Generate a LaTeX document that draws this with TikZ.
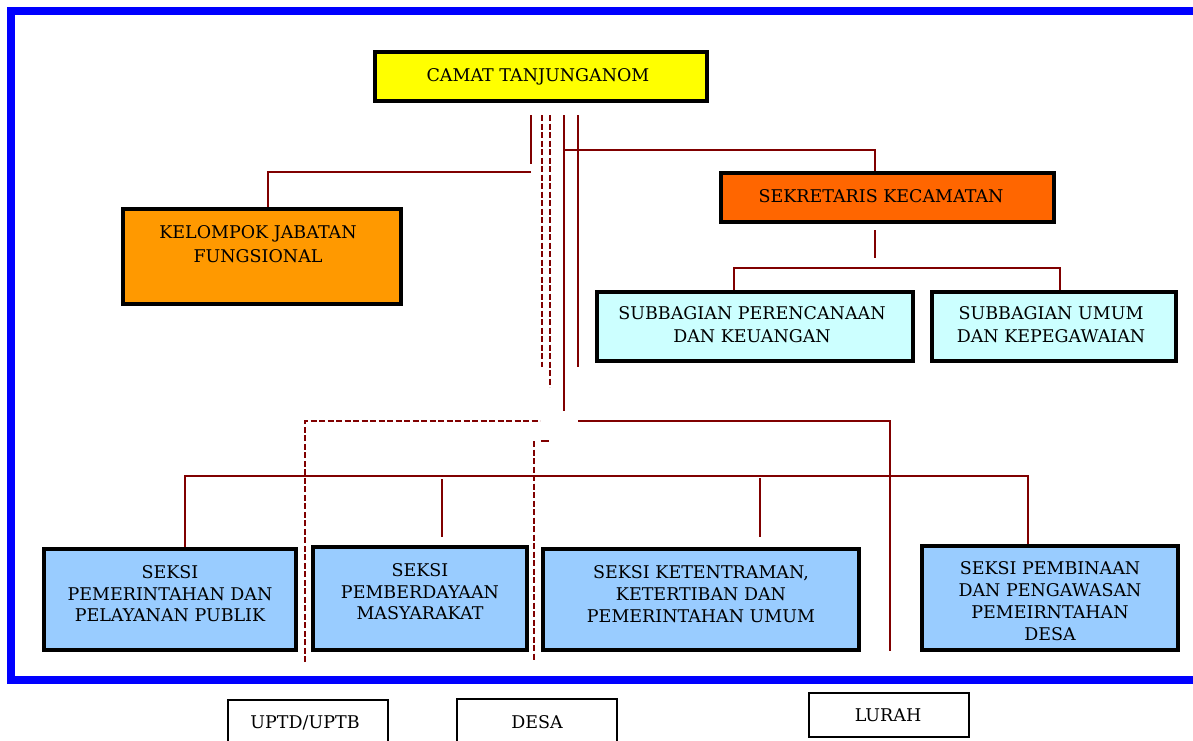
\documentclass[tikz,border=0pt]{standalone}
\usepackage{fontspec}
\setmainfont{DejaVu Serif}
\definecolor{conred}{HTML}{800000}
\definecolor{cyellow}{HTML}{FFFF00}
\definecolor{corange}{HTML}{FF9900}
\definecolor{cdorange}{HTML}{FF6600}
\definecolor{ccyan}{HTML}{CCFFFF}
\definecolor{cblue}{HTML}{99CCFF}
\definecolor{framebl}{HTML}{0000FF}
\begin{document}
\begin{tikzpicture}[x=1pt,y=-1pt,
  box/.style={draw=black, line width=4pt, inner sep=0pt},
  txt/.style={anchor=north, inner sep=0pt, align=center, font=\fontsize{17.5}{22}\selectfont},
  con/.style={draw=conred, line width=2pt},
  dcon/.style={draw=conred, line width=2pt, dash pattern=on 6pt off 2.5pt},
  smallbox/.style={draw=black, line width=2pt, fill=white, inner sep=0pt}]
\useasboundingbox (0,0) rectangle (1193,740);
% outer blue frame
\draw[framebl, line width=8pt] (11,11) rectangle (1215,680);

% boxes
\node[box, fill=cyellow, minimum width=332pt, minimum height=49pt] (camat) at (541,76.5) {};
\node[box, fill=corange, minimum width=278pt, minimum height=95pt] (kjf) at (262,256.5) {};
\node[box, fill=cdorange, minimum width=333pt, minimum height=49pt] (sek) at (887.5,197.5) {};
\node[box, fill=ccyan, minimum width=316pt, minimum height=69pt] (sub1) at (755,326.5) {};
\node[box, fill=ccyan, minimum width=244pt, minimum height=69pt] (sub2) at (1054,326.5) {};
\node[box, fill=cblue, minimum width=252pt, minimum height=101pt] (sA) at (170,599.5) {};
\node[box, fill=cblue, minimum width=214pt, minimum height=103pt] (sB) at (420,598.5) {};
\node[box, fill=cblue, minimum width=316pt, minimum height=101pt] (sC) at (701,599.5) {};
\node[box, fill=cblue, minimum width=256pt, minimum height=104pt] (sD) at (1050,598) {};
\node[smallbox, minimum width=160pt, minimum height=80pt, anchor=north] (uptd) at (308,699) {};
\node[smallbox, minimum width=160pt, minimum height=80pt, anchor=north] (desa) at (537,698) {};
\node[smallbox, minimum width=160pt, minimum height=44pt] (lurah) at (888.5,715) {};

% texts
\node[txt] (tcamat) at (538,68.6) {CAMAT TANJUNGANOM};
\node[txt, font=\fontsize{17.5}{24}\selectfont] (tkjf) at (258,225.6) {KELOMPOK JABATAN\\FUNGSIONAL};
\node[txt] (tsek) at (881,189.6) {SEKRETARIS KECAMATAN};
\node[txt, font=\fontsize{17.5}{23}\selectfont] (tsub1) at (752,306.6) {SUBBAGIAN PERENCANAAN\\DAN KEUANGAN};
\node[txt, font=\fontsize{17.5}{23}\selectfont] (tsub2) at (1051,306.6) {SUBBAGIAN UMUM\\DAN KEPEGAWAIAN};
\node[txt, font=\fontsize{17.5}{21.5}\selectfont] (tsA) at (170,565.6) {SEKSI\\PEMERINTAHAN DAN\\PELAYANAN PUBLIK};
\node[txt, font=\fontsize{17.5}{21.5}\selectfont] (tsB) at (420,563.6) {SEKSI\\PEMBERDAYAAN\\MASYARAKAT};
\node[txt] (tsC) at (701,565.6) {SEKSI KETENTRAMAN,\\KETERTIBAN DAN\\PEMERINTAHAN UMUM};
\node[txt] (tsD) at (1050,561.6) {SEKSI PEMBINAAN\\DAN PENGAWASAN\\PEMEIRNTAHAN\\DESA};
\node[txt] (tuptd) at (305,715.6) {UPTD/UPTB};
\node[txt] (tdesa) at (537,715.6) {DESA};
\node[txt] (tlurah) at (888,708.6) {LURAH};

% coordinates for connector ends
\coordinate (v1t) at (531,115);
\coordinate (v1b) at (531,164);
\coordinate (kA) at (531,172);
\coordinate (kB) at (268,172);
\coordinate (d1t) at (542,115);
\coordinate (d1b) at (542,367);
\coordinate (d2t) at (550,115);
\coordinate (d2b) at (550,387);
\coordinate (s1t) at (564,115);
\coordinate (s1b) at (564,411);
\coordinate (s2t) at (578,115);
\coordinate (s2b) at (578,367);
\coordinate (j1) at (564,150);
\coordinate (j2) at (875,150);
\coordinate (sk1) at (875,230);
\coordinate (sk2) at (875,258);
\coordinate (h1) at (734,268);
\coordinate (h2) at (1060,268);
\coordinate (dl1) at (305,662);
\coordinate (dl2) at (305,421);
\coordinate (dl3) at (540,421);
\coordinate (r1) at (578,421);
\coordinate (r2) at (890,421);
\coordinate (r3) at (890,651);
\coordinate (m1) at (541,441);
\coordinate (m2) at (549,441);
\coordinate (dm1) at (534,441);
\coordinate (dm2) at (534,661);
\coordinate (b1) at (185,476);
\coordinate (b2) at (1028,476);
\coordinate (p1t) at (442,479);
\coordinate (p1b) at (442,537);
\coordinate (p2t) at (760,478);
\coordinate (p2b) at (760,537);

% connectors
\draw[con] (v1t) -- (v1b);
\draw[con] (kA) -- (kB) -- (kB |- kjf.north);
\draw[dcon] (d1t) -- (d1b);
\draw[dcon] (d2t) -- (d2b);
\draw[con] (s1t) -- (s1b);
\draw[con] (s2t) -- (s2b);
\draw[con] (j1) -- (j2) -- (j2 |- sek.north);
\draw[con] (sk1) -- (sk2);
\draw[con] (h1 |- sub1.north) -- (h1) -- (h2) -- (h2 |- sub2.north);
\draw[dcon] (dl1) -- (dl2) -- (dl3);
\draw[con] (r1) -- (r2) -- (r3);
\draw[con] (m1) -- (m2);
\draw[dcon] (dm1) -- (dm2);
\draw[con] (b1 |- sA.north) -- (b1) -- (b2) -- (b2 |- sD.north);
\draw[con] (p1t) -- (p1b);
\draw[con] (p2t) -- (p2b);
\end{tikzpicture}
\end{document}
